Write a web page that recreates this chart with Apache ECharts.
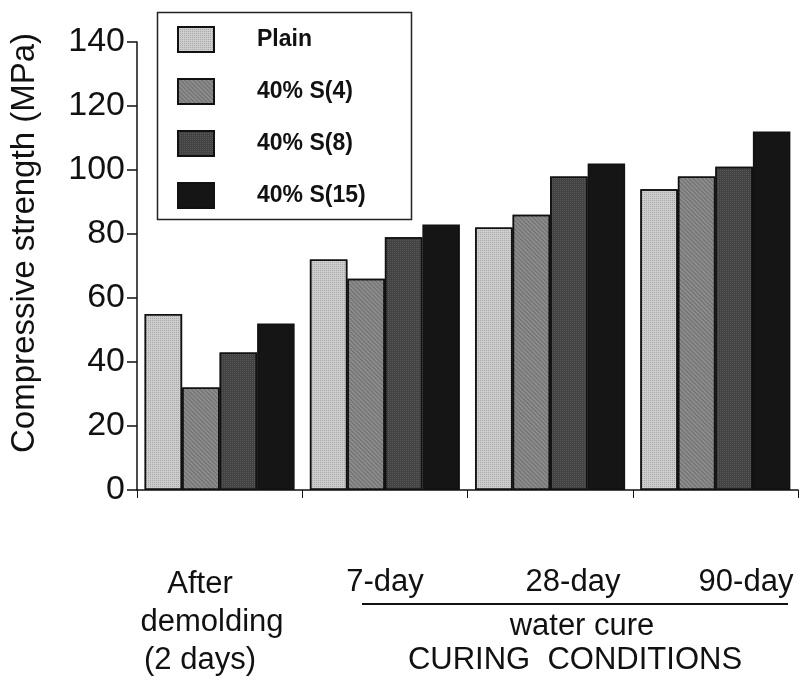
<!DOCTYPE html>
<html>
<head>
<meta charset="utf-8">
<script src="https://cdn.jsdelivr.net/npm/echarts@6/dist/echarts.min.js"></script>
<style>
  html, body { margin: 0; padding: 0; background: #ffffff; }
  #chart { width: 800px; height: 692px; }
</style>
</head>
<body>
<div id="chart"></div>
<script>
// Curing stages (one bar group each)
const categories = ['After demolding', '7-day', '28-day', '90-day'];

// Compressive strength, MPa
const seriesNames = ['Plain', '40% S(4)', '40% S(8)', '40% S(15)'];
const plain = [55, 72, 82, 94];
const s4 = [32, 66, 86, 98];
const s8 = [43, 79, 98, 101];
const s15 = [52, 83, 102, 112];

const yTicks = { min: 0, max: 140, step: 20 };

const FONT = "'Liberation Sans', Arial, Helvetica, sans-serif";

const fills = ['#cdcdcd', '#787878', '#424242', '#151515'];
const decals = [
  { symbol: 'rect', color: 'rgba(0,0,0,0.18)', dashArrayX: [1, 1], dashArrayY: [1, 1], symbolSize: 1 },
  { symbol: 'rect', color: 'rgba(255,255,255,0.22)', dashArrayX: [1, 0], dashArrayY: [1, 2], rotation: Math.PI / 4, symbolSize: 1 },
  { symbol: 'rect', color: 'rgba(255,255,255,0.12)', dashArrayX: [1, 1], dashArrayY: [1, 1], symbolSize: 1 },
  'none'
];

const values = [plain, s4, s8, s15];

const series = seriesNames.map((name, i) => ({
  name: name,
  type: 'bar',
  data: values[i],
  barWidth: 37.5,
  barGap: '0%',
  itemStyle: {
    color: fills[i],
    borderColor: '#111',
    borderWidth: 1.5,
    decal: decals[i] === 'none' ? undefined : decals[i]
  }
}));

const chart = echarts.init(document.getElementById('chart'), null, { renderer: 'canvas' });

const text = (str, x, y) => ({
  type: 'text', x: x, y: y,
  style: { text: str, font: '31px ' + FONT, fill: '#111', textAlign: 'center', textVerticalAlign: 'middle' }
});

chart.setOption({
  backgroundColor: '#ffffff',
  animation: false,
  grid: { left: 137, right: 2, top: 42, bottom: 202, containLabel: false },
  legend: {
    data: seriesNames,
    orient: 'vertical',
    left: 177,
    top: 26,
    padding: 0,
    itemWidth: 36,
    itemHeight: 25,
    itemGap: 25,
    icon: 'rect',
    textStyle: { fontFamily: FONT, fontSize: 23, fontWeight: 'bold', color: '#111', padding: [0, 0, 0, 38] },
    selectedMode: false
  },
  xAxis: {
    type: 'category',
    data: categories,
    axisLine: { lineStyle: { color: '#111', width: 1.5 } },
    axisTick: { show: true, length: 8, lineStyle: { color: '#111', width: 1 } },
    axisLabel: { show: false },
    splitLine: { show: false }
  },
  yAxis: {
    type: 'value',
    min: yTicks.min,
    max: yTicks.max,
    interval: yTicks.step,
    axisLine: { show: true, lineStyle: { color: '#111', width: 1.5 } },
    axisTick: { show: true, length: 10, lineStyle: { color: '#111', width: 1.5 } },
    axisLabel: { fontFamily: FONT, fontSize: 34, color: '#111', margin: 12 },
    splitLine: { show: false }
  },
  graphic: [
    {
      type: 'rect',
      shape: { x: 157.5, y: 12.5, width: 254, height: 207 },
      style: { fill: 'none', stroke: '#222', lineWidth: 1.5 },
      z: 10
    },
    {
      type: 'text', x: 25, y: 243, rotation: Math.PI / 2,
      style: { text: 'Compressive strength (MPa)', font: '33px ' + FONT, fill: '#111', textAlign: 'center', textVerticalAlign: 'middle' }
    },
    text('After', 200, 584),
    text('demolding', 212, 622),
    text('(2 days)', 200, 660),
    text('7-day', 385, 582),
    text('28-day', 573, 582),
    text('90-day', 746, 582),
    { type: 'line', shape: { x1: 362, y1: 604, x2: 788, y2: 604 }, style: { stroke: '#111', lineWidth: 2 } },
    text('water cure', 582, 626),
    text('CURING  CONDITIONS', 575, 660)
  ],
  series: series
});
</script>
</body>
</html>
